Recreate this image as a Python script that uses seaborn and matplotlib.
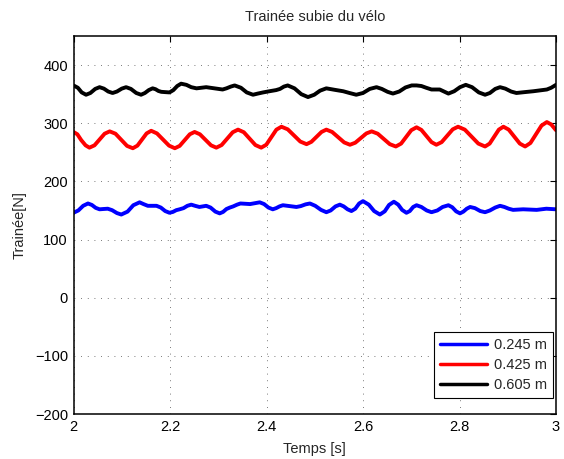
import matplotlib
matplotlib.use("Agg")
import matplotlib.pyplot as plt
import seaborn as sns
import pandas as pd

# Drag force traces for three rider heights
t_small = [2.000, 2.010, 2.020, 2.030, 2.038, 2.046, 2.054, 2.062, 2.071, 2.080, 2.090, 2.099,
           2.112, 2.124, 2.137, 2.145, 2.154, 2.172, 2.181, 2.190, 2.199, 2.206, 2.213, 2.220,
           2.228, 2.236, 2.244, 2.252, 2.261, 2.268, 2.275, 2.284, 2.294, 2.303, 2.310, 2.317,
           2.324, 2.331, 2.339, 2.346, 2.366, 2.386, 2.395, 2.404, 2.413, 2.420, 2.427, 2.434,
           2.448, 2.462, 2.471, 2.481, 2.490, 2.501, 2.513, 2.524, 2.533, 2.543, 2.552, 2.560,
           2.568, 2.576, 2.584, 2.592, 2.600, 2.612, 2.623, 2.635, 2.645, 2.654, 2.664, 2.673,
           2.681, 2.690, 2.697, 2.704, 2.711, 2.721, 2.732, 2.742, 2.754, 2.765, 2.777, 2.785,
           2.793, 2.801, 2.808, 2.815, 2.822, 2.832, 2.843, 2.853, 2.863, 2.874, 2.884, 2.893,
           2.902, 2.911, 2.932, 2.960, 2.980, 3.000]
f_small = [146, 150, 158, 162, 159.5, 154.5, 152, 152.5, 153, 150.5, 145.5, 143,
           148, 159, 164, 161, 158, 158, 155, 149, 146, 147.5, 150.5, 152,
           154, 158, 160, 158, 156, 157, 158, 155, 148, 145, 147.5, 152.5,
           155, 157, 160, 162, 161, 164, 161, 155, 152, 154, 157, 159,
           157.5, 156, 157.5, 160.5, 162, 158, 151, 147, 150, 157, 160, 157,
           152, 149, 153, 162, 166, 160, 149, 143, 148.5, 159.5, 165, 160,
           151, 146, 149, 156, 159, 156, 150, 147, 150, 156, 159, 155.5,
           148.5, 145, 148, 153, 156, 154, 149, 147, 150, 155, 158, 156,
           153, 151, 152, 151, 153, 152]

t_mid = [2.000, 2.008, 2.016, 2.025, 2.033, 2.0435, 2.054, 2.0645, 2.075, 2.087, 2.099, 2.111,
         2.123, 2.1325, 2.142, 2.1515, 2.161, 2.173, 2.1855, 2.198, 2.210, 2.220, 2.2305, 2.241,
         2.251, 2.262, 2.2735, 2.285, 2.296, 2.307, 2.3185, 2.330, 2.341, 2.353, 2.365, 2.377,
         2.389, 2.3995, 2.410, 2.4205, 2.431, 2.444, 2.457, 2.470, 2.483, 2.493, 2.5035, 2.514,
         2.524, 2.536, 2.5485, 2.561, 2.573, 2.584, 2.5955, 2.607, 2.618, 2.6305, 2.643, 2.6555,
         2.668, 2.679, 2.6895, 2.700, 2.711, 2.721, 2.7315, 2.742, 2.752, 2.763, 2.7745, 2.786,
         2.797, 2.811, 2.825, 2.839, 2.853, 2.8625, 2.872, 2.8815, 2.891, 2.902, 2.9135, 2.925,
         2.936, 2.947, 2.9585, 2.970, 2.981, 2.990, 3.000]
f_mid = [285, 281, 271, 262, 258, 262, 272, 282, 286, 282, 271.5, 261,
         257, 261.5, 272, 282.5, 287, 282.5, 272, 261.5, 257, 261, 271, 281,
         285, 281, 271.5, 262, 258, 262.5, 273.5, 284.5, 289, 284.5, 273.5, 262.5,
         258, 263, 276, 289, 294, 289.5, 279, 268.5, 264, 268, 276.5, 285,
         289, 285, 276, 267, 263, 266.5, 274.5, 282.5, 286, 282, 273, 264,
         260, 265, 276.5, 288, 293, 288.5, 278, 267.5, 263, 267.5, 278.5, 289.5,
         294, 289, 277, 265, 260, 265, 277, 289, 294, 289, 277, 265,
         260, 266, 281, 296, 302, 298, 288]

t_large = [2.000, 2.009, 2.017, 2.026, 2.035, 2.045, 2.054, 2.063, 2.072, 2.081, 2.090, 2.100,
           2.109, 2.119, 2.130, 2.140, 2.148, 2.156, 2.164, 2.170, 2.176, 2.182, 2.190, 2.199,
           2.207, 2.215, 2.223, 2.234, 2.244, 2.255, 2.265, 2.275, 2.292, 2.309, 2.317, 2.326,
           2.334, 2.347, 2.359, 2.372, 2.382, 2.393, 2.406, 2.420, 2.428, 2.436, 2.444, 2.458,
           2.472, 2.486, 2.499, 2.511, 2.524, 2.541, 2.559, 2.572, 2.586, 2.600, 2.614, 2.628,
           2.639, 2.651, 2.662, 2.675, 2.688, 2.701, 2.711, 2.721, 2.731, 2.742, 2.759, 2.768,
           2.777, 2.789, 2.801, 2.813, 2.826, 2.840, 2.853, 2.863, 2.874, 2.884, 2.895, 2.907,
           2.918, 2.935, 2.953, 2.967, 2.981, 2.990, 3.000]
f_large = [365, 361, 353, 349, 352, 359, 362, 359.5, 354.5, 352, 354.5, 359.5,
           362, 359, 352, 349, 352, 357, 360, 358.5, 355.5, 354, 353.5, 353,
           357, 364, 368, 366, 362, 360, 361, 362, 360, 358, 360, 363,
           365, 361, 353, 349, 351, 353, 355, 357, 359, 363, 365, 360,
           350, 345, 349, 356, 360, 357.5, 355, 352, 349, 352, 359, 362,
           359, 354, 351, 354.5, 361.5, 365, 365, 364, 361, 358, 358, 354.5,
           351, 355, 362, 366, 362, 353, 349, 352, 359, 362, 359.5, 354.5,
           352, 353.5, 355, 356.5, 358, 361, 366]

labels = ["0.245 m", "0.425 m", "0.605 m"]
colors = ["#0000ff", "#ff0000", "#000000"]

yticks = [-200, -100, 0, 100, 200, 300, 400]
xticks = [2, 2.2, 2.4, 2.6, 2.8, 3]
xtick_labels = ["2", "2.2", "2.4", "2.6", "2.8", "3"]

df = pd.concat([
    pd.DataFrame({"t": t_small, "F": f_small, "h": labels[0]}),
    pd.DataFrame({"t": t_mid, "F": f_mid, "h": labels[1]}),
    pd.DataFrame({"t": t_large, "F": f_large, "h": labels[2]}),
], ignore_index=True)

sns.set_style("white")
plt.rcParams["font.family"] = ["Liberation Sans", "DejaVu Sans"]
fs = 10.5
plt.rcParams["font.size"] = fs

fig = plt.figure(figsize=(5.64, 4.59), dpi=100)
ax = fig.add_axes([73.5 / 564, 45 / 459, 482.5 / 564, 378 / 459])

sns.lineplot(data=df, x="t", y="F", hue="h", palette=colors, hue_order=labels,
             estimator=None, sort=True, linewidth=2.8, ax=ax)

ax.set_xlim(2, 3)
ax.set_ylim(-200, 450)
ax.set_xticks(xticks)
ax.set_xticklabels(xtick_labels)
ax.set_yticks(yticks)
ax.grid(True, color="0.3", linestyle=(0, (1, 7)), linewidth=0.6)
ax.set_axisbelow(True)
for s in ax.spines.values():
    s.set_visible(True)
    s.set_color("black")
    s.set_linewidth(1.1)
ax.tick_params(direction="in", length=4, width=0.8, top=True, right=True,
               labelsize=fs, colors="black", pad=4)

ax.set_title("Trainée subie du vélo", fontsize=fs, pad=11)
ax.set_xlabel("Temps [s]", fontsize=fs, labelpad=6)
ax.set_ylabel("Trainée[N]", fontsize=fs, labelpad=6)

leg = ax.legend(loc="lower right", bbox_to_anchor=(0.9935, 0.042), borderaxespad=0,
                frameon=True, fancybox=False, edgecolor="black", framealpha=1,
                fontsize=fs, handlelength=3.2, handletextpad=0.5, labelspacing=0.42,
                borderpad=0.4)
leg.get_frame().set_linewidth(0.8)
for line in leg.get_lines():
    line.set_linewidth(2.5)

fig.savefig("out.png", dpi=100)
